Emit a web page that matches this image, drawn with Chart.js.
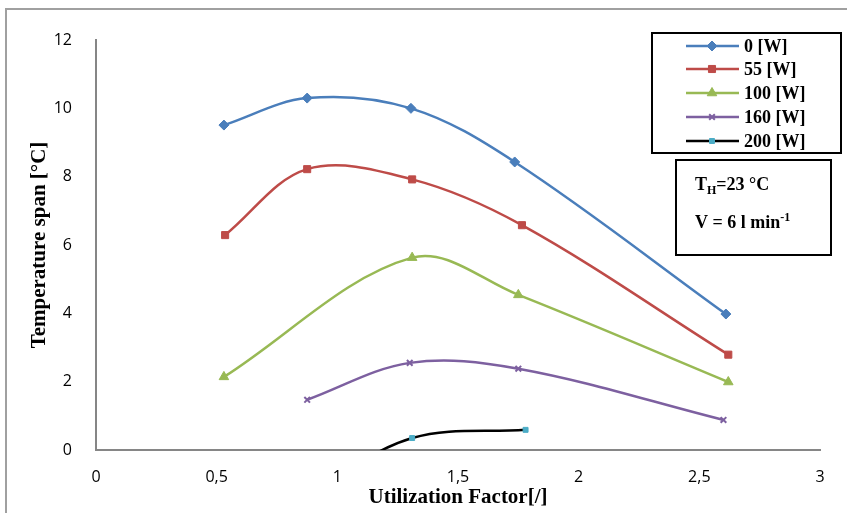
<!DOCTYPE html>
<html>
<head>
<meta charset="utf-8">
<script src="https://cdn.jsdelivr.net/npm/chart.js@4.4.0/dist/chart.umd.min.js"></script>
<style>
  html, body { margin: 0; padding: 0; background: #fff; }
  #wrap { width: 847px; height: 513px; position: relative; }
</style>
</head>
<body>
<div id="wrap"><canvas id="chart" width="847" height="513"></canvas></div>
<script>
// data
const seriesNames = ['0 [W]', '55 [W]', '100 [W]', '160 [W]', '200 [W]'];
const xTicks = [0, 0.5, 1, 1.5, 2, 2.5, 3];
const yTicks = [0, 2, 4, 6, 8, 10, 12];

const w0 = [[0.53, 9.51], [0.875, 10.3], [1.305, 10.0], [1.735, 8.43], [2.61, 3.98]];
const w55 = [[0.535, 6.29], [0.875, 8.22], [1.31, 7.92], [1.765, 6.58], [2.62, 2.79]];
const w100 = [[0.53, 2.14], [1.31, 5.63], [1.75, 4.54], [2.62, 1.99]];
const w160 = [[0.875, 1.47], [1.30, 2.55], [1.75, 2.38], [2.60, 0.88]];
const w200 = [[0.875, -1.3], [1.31, 0.35], [1.78, 0.59]];

const colors = ['#4a7ebb', '#be4b48', '#98b954', '#7d60a0', '#000000'];
const markerColors = ['#4a7ebb', '#be4b48', '#98b954', '#7d60a0', '#4bacc6'];
const markerStyles = ['rectRot', 'rect', 'triangle', 'crossRot', 'rect'];
const markerSizes = [5, 5, 5.5, 4, 3.5];

const allData = [w0, w55, w100, w160, w200];

const AREA = { left: 96, right: 820, top: 40, bottom: 450 };
const serif = '"Liberation Serif", "Times New Roman", serif';
const tickFont = '"Open Sans", sans-serif';

function toPoints(arr) {
    return arr.map(p => ({ x: p[0], y: p[1] }));
}

const datasets = allData.map((d, i) => ({
    label: seriesNames[i],
    data: toPoints(d),
    borderColor: colors[i],
    backgroundColor: markerColors[i],
    borderWidth: 2.5,
    tension: 0.35,
    pointStyle: markerStyles[i],
    pointRadius: markerSizes[i],
    pointBorderColor: markerColors[i],
    pointBackgroundColor: markerColors[i],
    pointBorderWidth: markerStyles[i] === 'crossRot' ? 2 : 1
}));

// draws frame, axis titles, legend and the note box
const decorations = {
    id: 'decorations',
    beforeDraw(chart) {
        const ctx = chart.ctx;
        ctx.save();
        ctx.fillStyle = '#fff';
        ctx.fillRect(0, 0, chart.width, chart.height);
        ctx.strokeStyle = '#a0a0a0';
        ctx.lineWidth = 2;
        ctx.beginPath();
        ctx.moveTo(6, 520);
        ctx.lineTo(6, 9);
        ctx.lineTo(850, 9);
        ctx.stroke();
        ctx.restore();
    },
    afterDraw(chart) {
        const ctx = chart.ctx;
        ctx.save();
        ctx.fillStyle = '#000';

        // axis titles
        ctx.font = 'bold 21px ' + serif;
        ctx.textAlign = 'center';
        ctx.textBaseline = 'middle';
        ctx.fillText('Utilization Factor[/]', 458, 498);
        ctx.save();
        ctx.translate(40, 245);
        ctx.rotate(-Math.PI / 2);
        ctx.fillText('Temperature span [°C]', 0, 0);
        ctx.restore();

        // legend box
        ctx.lineWidth = 2;
        ctx.strokeStyle = '#000';
        ctx.strokeRect(652, 33, 189, 120);
        const rows = [46, 69, 93, 117, 141];
        ctx.font = 'bold 18px ' + serif;
        ctx.textAlign = 'left';
        chart.data.datasets.forEach((ds, i) => {
            const y = rows[i];
            ctx.strokeStyle = ds.borderColor;
            ctx.lineWidth = 2.5;
            ctx.beginPath();
            ctx.moveTo(686, y);
            ctx.lineTo(739, y);
            ctx.stroke();
            ctx.fillStyle = ds.pointBackgroundColor;
            ctx.strokeStyle = ds.pointBorderColor;
            ctx.lineWidth = ds.pointBorderWidth;
            Chart.helpers.drawPoint(ctx, {
                pointStyle: ds.pointStyle,
                radius: ds.pointRadius,
                borderWidth: ds.pointBorderWidth,
                rotation: 0
            }, 712, y);
            ctx.fillStyle = '#000';
            ctx.fillText(ds.label, 744, y + 1);
        });

        // note box
        ctx.lineWidth = 2;
        ctx.strokeStyle = '#000';
        ctx.strokeRect(676, 160, 155, 95);
        ctx.textBaseline = 'alphabetic';
        ctx.fillStyle = '#000';
        let x = 695;
        ctx.font = 'bold 18px ' + serif;
        ctx.fillText('T', x, 190);
        x += ctx.measureText('T').width;
        ctx.font = 'bold 12px ' + serif;
        ctx.fillText('H', x, 194);
        x += ctx.measureText('H').width;
        ctx.font = 'bold 18px ' + serif;
        ctx.fillText('=23 °C', x, 190);

        x = 695;
        ctx.fillText('V = 6 l min', x, 228);
        x += ctx.measureText('V = 6 l min').width;
        ctx.font = 'bold 12px ' + serif;
        ctx.fillText('-1', x, 221);
        ctx.restore();
    }
};

const chart = new Chart(document.getElementById('chart').getContext('2d'), {
    type: 'line',
    data: { datasets: datasets },
    options: {
        responsive: false,
        animation: false,
        layout: { padding: { left: 0, top: AREA.top, right: 847 - AREA.right, bottom: 0 } },
        plugins: {
            legend: { display: false },
            tooltip: { enabled: false }
        },
        elements: {
            line: { capBezierPoints: false }
        },
        scales: {
            x: {
                type: 'linear',
                min: 0,
                max: 3,
                afterBuildTicks(scale) {
                    scale.ticks = xTicks.map(v => ({ value: v }));
                },
                afterFit(scale) { scale.height = 513 - AREA.bottom; },
                grid: { display: false },
                border: { display: true, color: '#868686', width: 2 },
                ticks: {
                    color: '#000',
                    font: { family: tickFont, size: 16 },
                    padding: 10,
                    maxRotation: 0,
                    callback: v => String(v).replace('.', ',')
                }
            },
            y: {
                type: 'linear',
                min: 0,
                max: 12,
                afterBuildTicks(scale) {
                    scale.ticks = yTicks.map(v => ({ value: v }));
                },
                afterFit(scale) { scale.width = AREA.left; },
                grid: { display: false },
                border: { display: true, color: '#868686', width: 2 },
                ticks: {
                    color: '#000',
                    font: { family: tickFont, size: 16 },
                    padding: 16
                }
            }
        }
    },
    plugins: [decorations]
});
</script>
</body>
</html>
